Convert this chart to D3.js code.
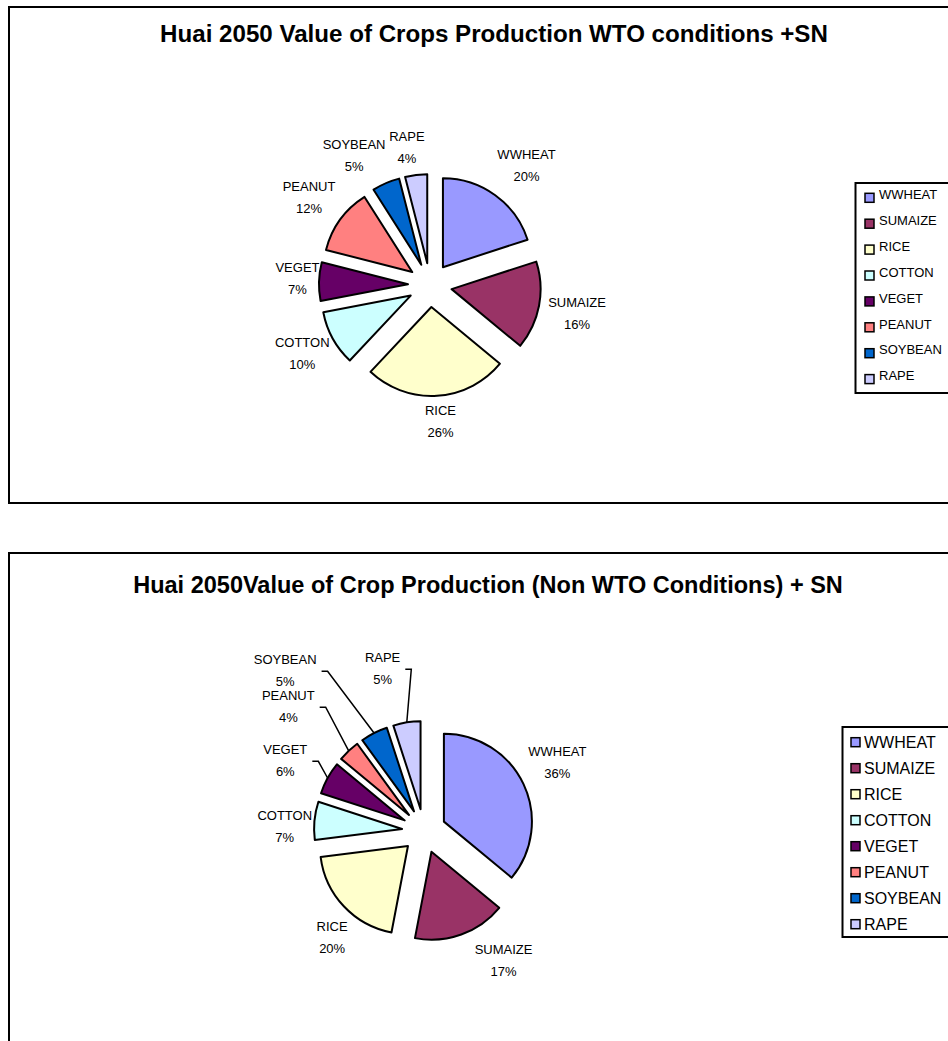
<!DOCTYPE html>
<html><head><meta charset="utf-8">
<script src="https://cdn.jsdelivr.net/npm/d3@7"></script>
<style>
body{margin:0;background:#fff}
svg{display:block}
text{font-family:"Liberation Sans",Arial,Helvetica,sans-serif;fill:#000}
</style>
</head><body>
<svg id="chart" width="948" height="1041"></svg>
<script>
// ---- data ----
const categories = ["WWHEAT","SUMAIZE","RICE","COTTON","VEGET","PEANUT","SOYBEAN","RAPE"];
const wtoValues = [20,16,26,10,7,12,5,4];
const nonWtoValues = [36,17,20,7,6,4,5,5];
const sliceColors = ["#9999FF","#993366","#FFFFCC","#CCFFFF","#660066","#FF8080","#0066CC","#CCCCFF"];
const titleTop = "Huai 2050 Value of Crops Production WTO conditions +SN";
const titleBottom = "Huai 2050Value of Crop Production (Non WTO Conditions) + SN";

// ---- layout ----
const panels = [
  {values: wtoValues, title: titleTop,
   frame: {x: 9, y: 7, w: 980, h: 496},
   titleCx: 494, titleBase: 42, titleW: 668, titleSize: 18,
   cx: 430, cy: 285, r: 89, explode: 22, labelR: 116,
   legend: {x: 855.5, y: 183, h: 210, base0: 199, step: 25.9, font: 13, sqX: 865, sqOff: 5.7, textX: 879},
   nudge: {WWHEAT: [9, 1], COTTON: [4, -4], VEGET: [8, -2], RICE: [2, 2], SOYBEAN: [-18, 4], RAPE: [-6, -2]},
   leaders: []},
  {values: nonWtoValues, title: titleBottom,
   frame: {x: 9, y: 553, w: 980, h: 600},
   titleCx: 488, titleBase: 593, titleW: 710, titleSize: 18,
   cx: 424, cy: 831, r: 88, explode: 22, labelR: 116,
   legend: {x: 842.5, y: 727, h: 210, base0: 748.3, step: 26, font: 16, sqX: 851, sqOff: 10.6, textX: 864},
   nudge: {WWHEAT: [-4, -4], SUMAIZE: [31, -6], RICE: [11, 10], COTTON: [7, 9],
           VEGET: [-11, 0], PEANUT: [-34, -16], SOYBEAN: [-72, -29], RAPE: [-20, -27]},
   leaders: ["VEGET","PEANUT","SOYBEAN","RAPE"]}
];

const svg = d3.select("#chart");

panels.forEach(p => {
  const g = svg.append("g");
  // frame
  g.append("rect").attr("x", p.frame.x).attr("y", p.frame.y)
    .attr("width", p.frame.w).attr("height", p.frame.h)
    .attr("fill", "#fff").attr("stroke", "#000").attr("stroke-width", 2);

  // title (fit to measured width)
  const t = g.append("text").attr("x", p.titleCx).attr("y", p.titleBase)
    .attr("text-anchor", "middle").attr("font-weight", "bold")
    .attr("font-size", p.titleSize).text(p.title);
  const tl = t.node().getComputedTextLength();
  t.attr("font-size", p.titleSize * p.titleW / tl);

  // pie
  const pie = d3.pie().sort(null).value(d => d.v);
  const arcs = pie(categories.map((c, i) => ({c, v: p.values[i], col: sliceColors[i]})));
  const arc = d3.arc().innerRadius(0).outerRadius(p.r);
  const pg = g.append("g").attr("transform", `translate(${p.cx},${p.cy})`);
  arcs.forEach(a => {
    const mid = (a.startAngle + a.endAngle) / 2;
    const dx = Math.sin(mid), dy = -Math.cos(mid);
    pg.append("path").attr("d", arc(a))
      .attr("transform", `translate(${dx * p.explode},${dy * p.explode})`)
      .attr("fill", a.data.col).attr("stroke", "#000").attr("stroke-width", 2)
      .attr("stroke-linejoin", "round");

    // labels
    const lg = g.append("g");
    const t1 = lg.append("text").attr("text-anchor", "middle").attr("font-size", 13).text(a.data.c);
    const t2 = lg.append("text").attr("text-anchor", "middle").attr("font-size", 13).text(a.data.v + "%");
    const w = Math.max(t1.node().getComputedTextLength(), t2.node().getComputedTextLength()) + 4;
    const h = 36;
    const ext = Math.abs(dx) * w / 2 + Math.abs(dy) * h / 2;
    const dist = p.labelR + ext;
    const nd = p.nudge[a.data.c] || [0, 0];
    const lx = p.cx + dx * dist + nd[0];
    const ly = p.cy + dy * dist + nd[1];
    t1.attr("x", lx).attr("y", ly - 11 + 4.6);
    t2.attr("x", lx).attr("y", ly + 11 + 4.6);

    if (p.leaders.includes(a.data.c)) {
      const sx = lx + w / 2 + 3;
      const ex = p.cx + dx * (p.r + p.explode), ey = p.cy + dy * (p.r + p.explode);
      g.append("path").attr("d", d3.line()([[sx, ly + 0.5], [sx + 6, ly + 0.5], [ex, ey]]))
        .attr("fill", "none").attr("stroke", "#000").attr("stroke-width", 1.5);
    }
  });

  // legend
  const L = p.legend;
  g.append("rect").attr("x", L.x).attr("y", L.y).attr("width", 200).attr("height", L.h)
    .attr("fill", "#fff").attr("stroke", "#000").attr("stroke-width", 2);
  categories.forEach((c, i) => {
    const b = L.base0 + i * L.step;
    g.append("rect").attr("x", L.sqX).attr("y", b - L.sqOff).attr("width", 9).attr("height", 9)
      .attr("fill", sliceColors[i]).attr("stroke", "#000").attr("stroke-width", 1.5);
    g.append("text").attr("x", L.textX).attr("y", b).attr("font-size", L.font).text(c);
  });
});
</script>
</body></html>
